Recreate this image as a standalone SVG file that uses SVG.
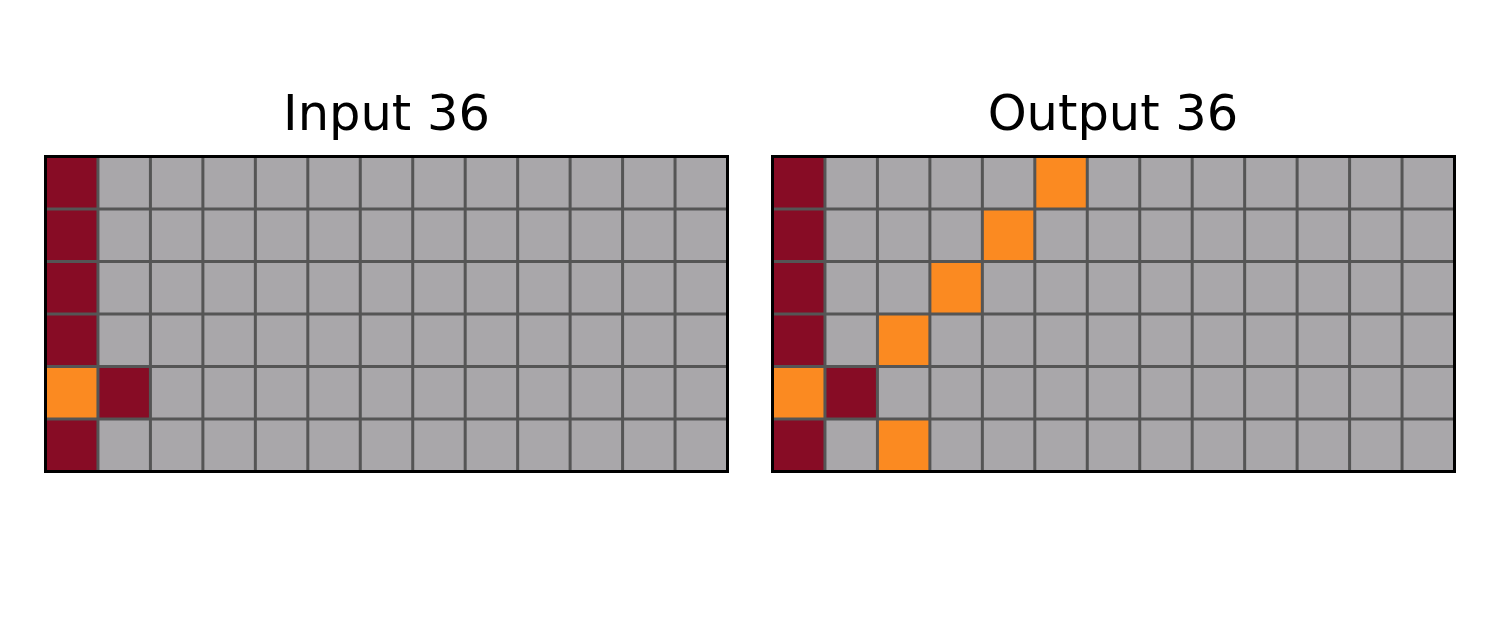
<svg xmlns="http://www.w3.org/2000/svg" width="1500" height="629" viewBox="0 0 1500 629">
<style>
.t{font-family:"DejaVu Sans",sans-serif;font-size:49.5px;fill:#000;text-anchor:middle}
.bg{fill:#A9A7AA}
.m{fill:#870C25}
.o{fill:#FB8A21}
.gl{stroke:#555555;stroke-width:3;fill:none}
.bd{stroke:#000;stroke-width:3;fill:none}
</style>
<defs>
<g id="lines">
<path class="gl" d="M52.46 0V315M104.92 0V315M157.38 0V315M209.85 0V315M262.31 0V315M314.77 0V315M367.23 0V315M419.69 0V315M472.15 0V315M524.62 0V315M577.08 0V315M629.54 0V315M0 52.5H682M0 105H682M0 157.5H682M0 210H682M0 262.5H682"/>
<rect class="bd" x="0" y="0" width="682" height="315"/>
</g>
</defs>
<rect width="1500" height="629" fill="#fff"/>
<g id="input">
<text class="t" x="386.5" y="130">Input 36</text>
<g transform="translate(45.5,156.5)">
<rect class="bg" width="682" height="315"/>
<rect class="m" x="0" y="0" width="52.46" height="52.5"/>
<rect class="m" x="0" y="52.5" width="52.46" height="52.5"/>
<rect class="m" x="0" y="105" width="52.46" height="52.5"/>
<rect class="m" x="0" y="157.5" width="52.46" height="52.5"/>
<rect class="o" x="0" y="210" width="52.46" height="52.5"/>
<rect class="m" x="52.46" y="210" width="52.46" height="52.5"/>
<rect class="m" x="0" y="262.5" width="52.46" height="52.5"/>
<use href="#lines"/>
</g>
</g>
<g id="output">
<text class="t" x="1113" y="130">Output 36</text>
<g transform="translate(772.5,156.5)">
<rect class="bg" width="682" height="315"/>
<rect class="m" x="0" y="0" width="52.46" height="52.5"/>
<rect class="o" x="262.31" y="0" width="52.46" height="52.5"/>
<rect class="m" x="0" y="52.5" width="52.46" height="52.5"/>
<rect class="o" x="209.85" y="52.5" width="52.46" height="52.5"/>
<rect class="m" x="0" y="105" width="52.46" height="52.5"/>
<rect class="o" x="157.38" y="105" width="52.46" height="52.5"/>
<rect class="m" x="0" y="157.5" width="52.46" height="52.5"/>
<rect class="o" x="104.92" y="157.5" width="52.46" height="52.5"/>
<rect class="o" x="0" y="210" width="52.46" height="52.5"/>
<rect class="m" x="52.46" y="210" width="52.46" height="52.5"/>
<rect class="m" x="0" y="262.5" width="52.46" height="52.5"/>
<rect class="o" x="104.92" y="262.5" width="52.46" height="52.5"/>
<use href="#lines"/>
</g>
</g>
</svg>
